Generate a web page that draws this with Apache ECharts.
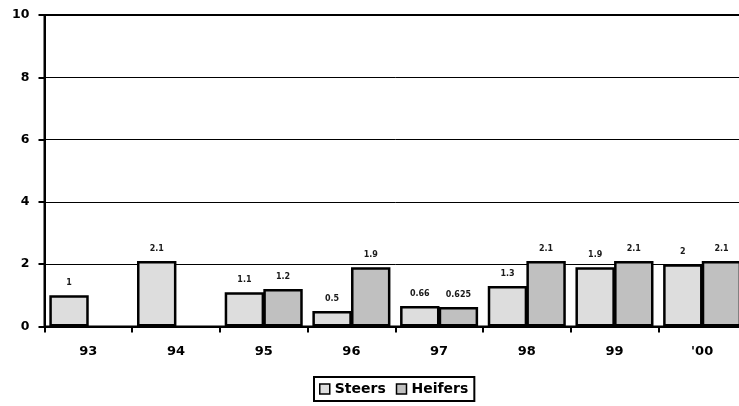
<!DOCTYPE html>
<html>
<head>
<meta charset="utf-8">
<script src="https://cdn.jsdelivr.net/npm/echarts@6/dist/echarts.min.js"></script>
<style>
html,body{margin:0;padding:0;background:#fff;overflow:hidden;width:739px;height:406px;}
#chart{width:747px;height:406px;}
</style>
</head>
<body>
<div id="chart"></div>
<script>
const categories = ['93', '94', '95', '96', '97', '98', '99', "'00"];
const steers = [1, 2.1, 1.1, 0.5, 0.66, 1.3, 1.9, 2];
const heifers = [null, null, 1.2, 1.9, 0.625, 2.1, 2.1, 2.1];
const yMin = 0, yMax = 10, yStep = 2;

const FONT = 'DejaVu Sans';
const chart = echarts.init(document.getElementById('chart'), null, {renderer: 'canvas'});

const labelStyle = {
  show: true,
  position: 'top',
  distance: 8,
  fontFamily: FONT,
  fontWeight: 'bold',
  fontSize: 8,
  color: '#1a1a1a'
};

chart.setOption({
  animation: false,
  backgroundColor: '#ffffff',
  grid: {
    left: 44.5, right: 1, top: 15, bottom: 79.5,
    show: true, borderColor: '#000', borderWidth: 2, containLabel: false
  },
  legend: {
    data: ['Steers', 'Heifers'],
    left: 314, top: 377,
    orient: 'horizontal',
    icon: 'rect',
    itemWidth: 10, itemHeight: 10,
    itemGap: 10,
    padding: [5, 6, 5, 5],
    borderColor: '#000', borderWidth: 2,
    textStyle: {fontFamily: FONT, fontWeight: 'bold', fontSize: 14, color: '#000'},
    itemStyle: {borderColor: '#000', borderWidth: 1.5}
  },
  xAxis: {
    type: 'category',
    data: categories,
    axisLine: {show: true, lineStyle: {color: '#000', width: 2}},
    axisTick: {show: true, length: 6, lineStyle: {color: '#000', width: 2}},
    axisLabel: {margin: 19, fontFamily: FONT, fontWeight: 'bold', fontSize: 13, color: '#000'},
    splitLine: {show: false}
  },
  yAxis: {
    type: 'value',
    min: yMin, max: yMax, interval: yStep,
    axisLine: {show: true, lineStyle: {color: '#000', width: 2}},
    axisTick: {show: true, length: 6, lineStyle: {color: '#000', width: 2}},
    axisLabel: {margin: 15, fontFamily: FONT, fontWeight: 'bold', fontSize: 12.5, color: '#000'},
    splitLine: {show: true, lineStyle: {color: '#000', width: 1}}
  },
  series: [
    {
      name: 'Steers', type: 'bar', data: steers,
      barGap: '-2%', barCategoryGap: '11%',
      itemStyle: {color: '#DDDDDD', borderColor: '#000', borderWidth: 2.5},
      label: labelStyle
    },
    {
      name: 'Heifers', type: 'bar', data: heifers,
      barGap: '-2%', barCategoryGap: '11%',
      itemStyle: {color: '#C0C0C0', borderColor: '#000', borderWidth: 2.5},
      label: labelStyle
    }
  ]
});
</script>
</body>
</html>
